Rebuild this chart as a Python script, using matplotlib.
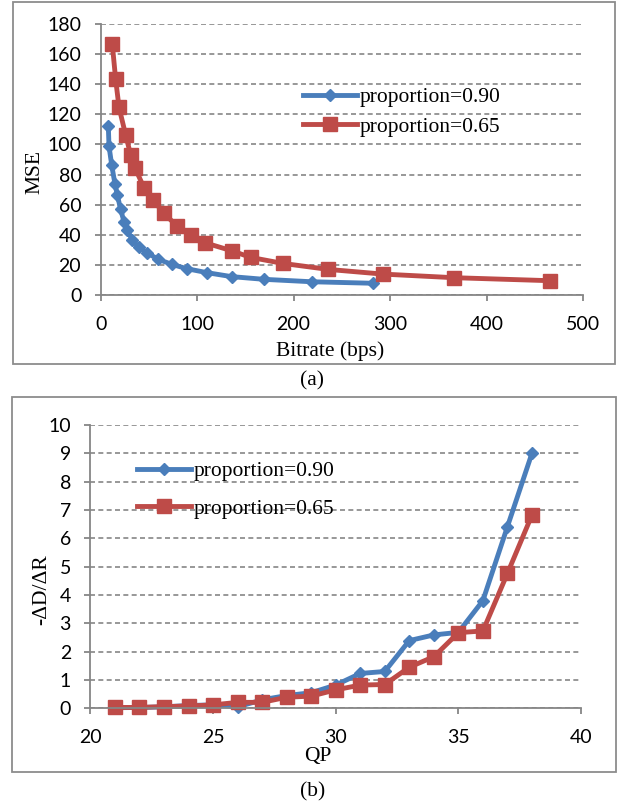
import matplotlib
matplotlib.use("Agg")
import matplotlib.pyplot as plt
from matplotlib.patches import Rectangle

# ---- data (a): MSE vs bitrate ----
rate_090 = [7.9, 8.6, 11.4, 14.8, 17.2, 20.7, 24.1, 27.6, 32.7, 39.7, 47.7,
            59.7, 73.5, 89.1, 110.5, 135.7, 169.5, 218.6, 281.8]
mse_090 = [112.2, 98.9, 86.3, 73.7, 66.4, 56.9, 48.7, 43.2, 36.5, 31.7, 28.1,
           23.7, 20.4, 17.5, 14.8, 12.2, 10.4, 8.8, 7.8]
rate_065 = [12.0, 15.5, 19.0, 25.9, 31.1, 35.5, 45.2, 54.5, 65.6, 78.8, 93.6,
            108.0, 135.7, 155.4, 188.6, 235.9, 292.2, 366.0, 465.6]
mse_065 = [166.7, 143.2, 124.6, 106.2, 93.0, 84.5, 70.8, 63.1, 54.2, 46.0, 39.8,
           34.7, 29.4, 25.0, 21.0, 17.0, 13.9, 11.5, 9.5]

# ---- data (b): -dD/dR vs QP ----
qp = [21, 22, 23, 24, 25, 26, 27, 28, 29, 30, 31, 32, 33, 34, 35, 36, 37, 38]
slope_090 = [0.02, 0.03, 0.05, 0.10, 0.12, 0.05, 0.30, 0.45, 0.55, 0.82, 1.23,
             1.30, 2.39, 2.59, 2.68, 3.80, 6.41, 9.00]
slope_065 = [0.03, 0.03, 0.06, 0.08, 0.12, 0.21, 0.21, 0.39, 0.43, 0.65, 0.82,
             0.84, 1.45, 1.82, 2.67, 2.73, 4.76, 6.82]

label_090 = "proportion=0.90"
label_065 = "proportion=0.65"

BLUE = "#4a7ebb"
RED = "#be4b48"
GRID = "#868686"
SERIF = "Liberation Serif"
SANS = "Lato"
FS = 15.5
LW = 3.5

W, H = 624, 808
fig = plt.figure(figsize=(W / 100, H / 100), dpi=100)


def fx(px):
    return px / W


def fy(py):
    return 1 - py / H


def style_axes(ax):
    for s in ["top", "right"]:
        ax.spines[s].set_visible(False)
    for s in ["left", "bottom"]:
        ax.spines[s].set_color(GRID)
        ax.spines[s].set_linewidth(1.3)
    ax.tick_params(direction="out", length=4, width=1.3, color=GRID,
                   labelsize=14, pad=10)
    ax.tick_params(axis="x", pad=11)
    for lab in ax.get_xticklabels() + ax.get_yticklabels():
        lab.set_fontfamily(SANS)
    ax.yaxis.grid(True, linestyle=(0, (3.0, 2.0)), color=GRID, linewidth=1.2)
    ax.set_axisbelow(True)


# ============ chart (a) ============
fig.add_artist(Rectangle((fx(13), fy(364)), fx(615 - 13), (364 - 2) / H,
                         transform=fig.transFigure, fill=False,
                         ec="#8c8c8c", lw=1.3))
ax1 = fig.add_axes([fx(100.7), fy(295), fx(583 - 100.7), (295 - 24) / H])
ax1.plot(rate_090, mse_090, color=BLUE, lw=LW, marker="D", ms=6,
         label=label_090, clip_on=False)
ax1.plot(rate_065, mse_065, color=RED, lw=LW, marker="s", ms=9.5,
         label=label_065, clip_on=False)
ax1.set_xlim(0, 500)
ax1.set_ylim(0, 180)
ax1.set_xticks(range(0, 501, 100))
ax1.set_yticks(range(0, 181, 20))
style_axes(ax1)
ax1.legend(loc="upper left", bbox_to_anchor=(0.419, 0.767), frameon=False,
           prop={"family": SERIF, "size": FS}, handlelength=2.5,
           handletextpad=0.15, labelspacing=0.45, borderpad=0,
           borderaxespad=0)
fig.text(fx(330), fy(351), "Bitrate (bps)", ha="center", va="center",
         family=SERIF, fontsize=FS)
fig.text(fx(35), fy(172), "MSE", ha="center", va="center", rotation=90,
         family=SERIF, fontsize=FS)
fig.text(fx(312), fy(381), "(a)", ha="center", va="center",
         family=SERIF, fontsize=FS)

# ============ chart (b) ============
fig.add_artist(Rectangle((fx(12), fy(772)), fx(616 - 12), (772 - 397) / H,
                         transform=fig.transFigure, fill=False,
                         ec="#8c8c8c", lw=1.3))
ax2 = fig.add_axes([fx(90.4), fy(708.3), fx(581 - 90.4), (708.3 - 425) / H])
ax2.plot(qp, slope_090, color=BLUE, lw=LW, marker="D", ms=6,
         label=label_090, clip_on=False)
ax2.plot(qp, slope_065, color=RED, lw=LW, marker="s", ms=9.5,
         label=label_065, clip_on=False)
ax2.set_xlim(20, 40)
ax2.set_ylim(0, 10)
ax2.set_xticks(range(20, 41, 5))
ax2.set_yticks(range(0, 11, 1))
style_axes(ax2)
ax2.legend(loc="upper left", bbox_to_anchor=(0.095, 0.873), frameon=False,
           prop={"family": SERIF, "size": FS}, handlelength=2.5,
           handletextpad=0.15, labelspacing=0.83, borderpad=0,
           borderaxespad=0)
fig.text(fx(318), fy(757), "QP", ha="center", va="center",
         family=SERIF, fontsize=FS)
fig.text(fx(42), fy(590), "-ΔD/ΔR", ha="center", va="center", rotation=90,
         family=SERIF, fontsize=FS)
fig.text(fx(313), fy(792), "(b)", ha="center", va="center",
         family=SERIF, fontsize=FS)

fig.savefig("out.png", dpi=100)
